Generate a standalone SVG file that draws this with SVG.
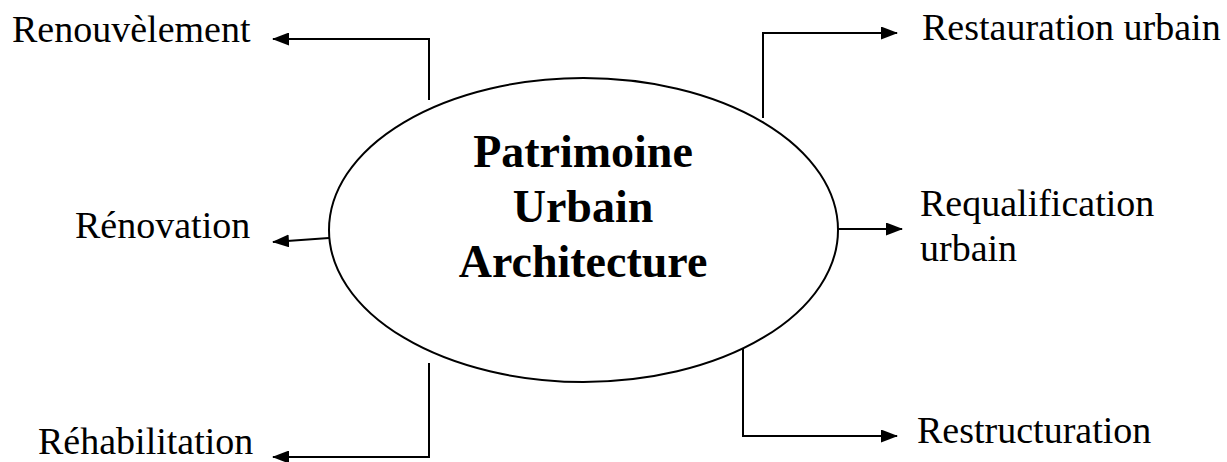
<svg xmlns="http://www.w3.org/2000/svg" width="1227" height="462" viewBox="0 0 1227 462">
<style>
.lbl{font-family:"Liberation Serif","Times New Roman",serif;font-size:38px;fill:#000}
.ctr{font-family:"Liberation Serif","Times New Roman",serif;font-size:46px;font-weight:bold;fill:#000;text-anchor:middle}
.con{fill:none;stroke:#000;stroke-width:2;marker-end:url(#ah)}
</style>
<defs>
<marker id="ah" markerUnits="userSpaceOnUse" markerWidth="17" markerHeight="13" refX="16" refY="6.5" orient="auto">
<path d="M0,0 L17,6.5 L0,13 Z" fill="#000"/>
</marker>
</defs>
<rect width="1227" height="462" fill="#fff"/>
<g id="connectors">
<path class="con" d="M429,100 V39 H273"/>
<path class="con" d="M763,118 V33 H897"/>
<path class="con" d="M329,238 L273,242"/>
<path class="con" d="M838,229 H902"/>
<path class="con" d="M429,363 V457 H273"/>
<path class="con" d="M743,348 V436 H897"/>
</g>
<g id="center">
<ellipse cx="583.5" cy="230" rx="254.5" ry="152" fill="#fff" stroke="#000" stroke-width="2"/>
<text class="ctr" x="583" y="167">Patrimoine</text>
<text class="ctr" x="583" y="222">Urbain</text>
<text class="ctr" x="583" y="277">Architecture</text>
</g>
<g id="renouvelement"><text class="lbl" x="12" y="42">Renouvèlement</text></g>
<g id="restauration"><text class="lbl" x="922" y="40">Restauration urbain</text></g>
<g id="renovation"><text class="lbl" x="75" y="238">Rénovation</text></g>
<g id="requalification"><text class="lbl" x="920" y="216">Requalification</text><text class="lbl" x="920" y="261">urbain</text></g>
<g id="rehabilitation"><text class="lbl" x="38" y="454">Réhabilitation</text></g>
<g id="restructuration"><text class="lbl" x="917" y="443">Restructuration</text></g>
</svg>
